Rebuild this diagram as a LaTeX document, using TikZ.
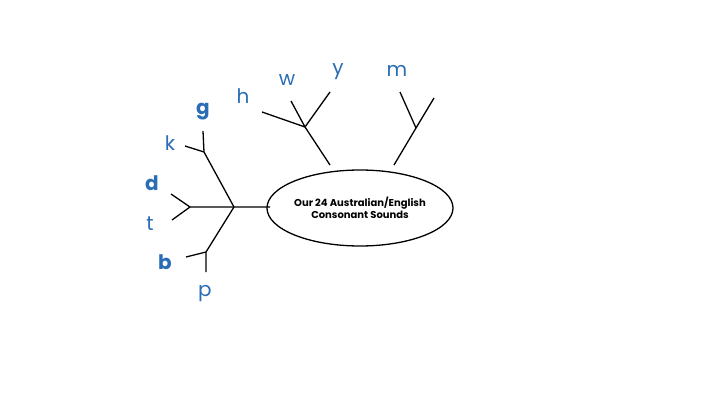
\documentclass[tikz,border=0pt]{standalone}
\usepackage{fontspec}
\usetikzlibrary{shapes.geometric}
\setmainfont{Poppins}
\definecolor{lb}{HTML}{2A6DB5}
\begin{document}
\begin{tikzpicture}[x=1pt,y=-1pt,line width=1.3pt,
  lt/.style={text=lb,font=\fontsize{20}{20}\selectfont,inner sep=0pt},
  bt/.style={lt,font=\fontsize{20}{20}\selectfont\bfseries}]
\useasboundingbox (0,0) rectangle (720,404);
\node[draw,ellipse,inner sep=0pt,minimum width=182,minimum height=76,align=center,font=\fontsize{10}{12}\selectfont\bfseries,line width=1.3pt] (e) at (360,208) {Our 24 Australian/English\\Consonant Sounds};
\coordinate (hub) at (234,207);
\coordinate (le) at (270,207);
\coordinate (dt) at (190,207);
\coordinate (d1) at (171,194);
\coordinate (t1) at (172,220);
\coordinate (kg) at (204,152);
\coordinate (k1) at (185,146);
\coordinate (g1) at (203,131);
\coordinate (bp) at (206,252);
\coordinate (b1) at (186,257);
\coordinate (p1) at (206,272);
\coordinate (a1) at (330,165);
\coordinate (hw) at (305,127);
\coordinate (h1) at (262,112);
\coordinate (w1) at (291,101);
\coordinate (y1) at (330,92);
\coordinate (a2) at (394,165);
\coordinate (mm) at (416,128);
\coordinate (m1) at (400,92);
\coordinate (m2) at (434,98);
\draw (le)--(hub) (hub)--(dt) (dt)--(d1) (dt)--(t1);
\draw (hub)--(kg) (kg)--(k1) (kg)--(g1);
\draw (hub)--(bp) (bp)--(b1) (bp)--(p1);
\draw (a1)--(hw) (hw)--(h1) (hw)--(w1) (hw)--(y1);
\draw (a2)--(mm) (mm)--(m1) (mm)--(m2);
\node[lt] (k) at (170,143) {k};
\node[bt] (g) at (203,112) {g};
\node[bt] (d) at (152,183) {d};
\node[lt] (t) at (150,224) {t};
\node[bt] (b) at (165,262) {b};
\node[lt] (p) at (205,294) {p};
\node[lt] (h) at (243,96) {h};
\node[lt] (w) at (287,80) {w};
\node[lt] (y) at (338,72) {y};
\node[lt] (m) at (397,71) {m};
\end{tikzpicture}
\end{document}
